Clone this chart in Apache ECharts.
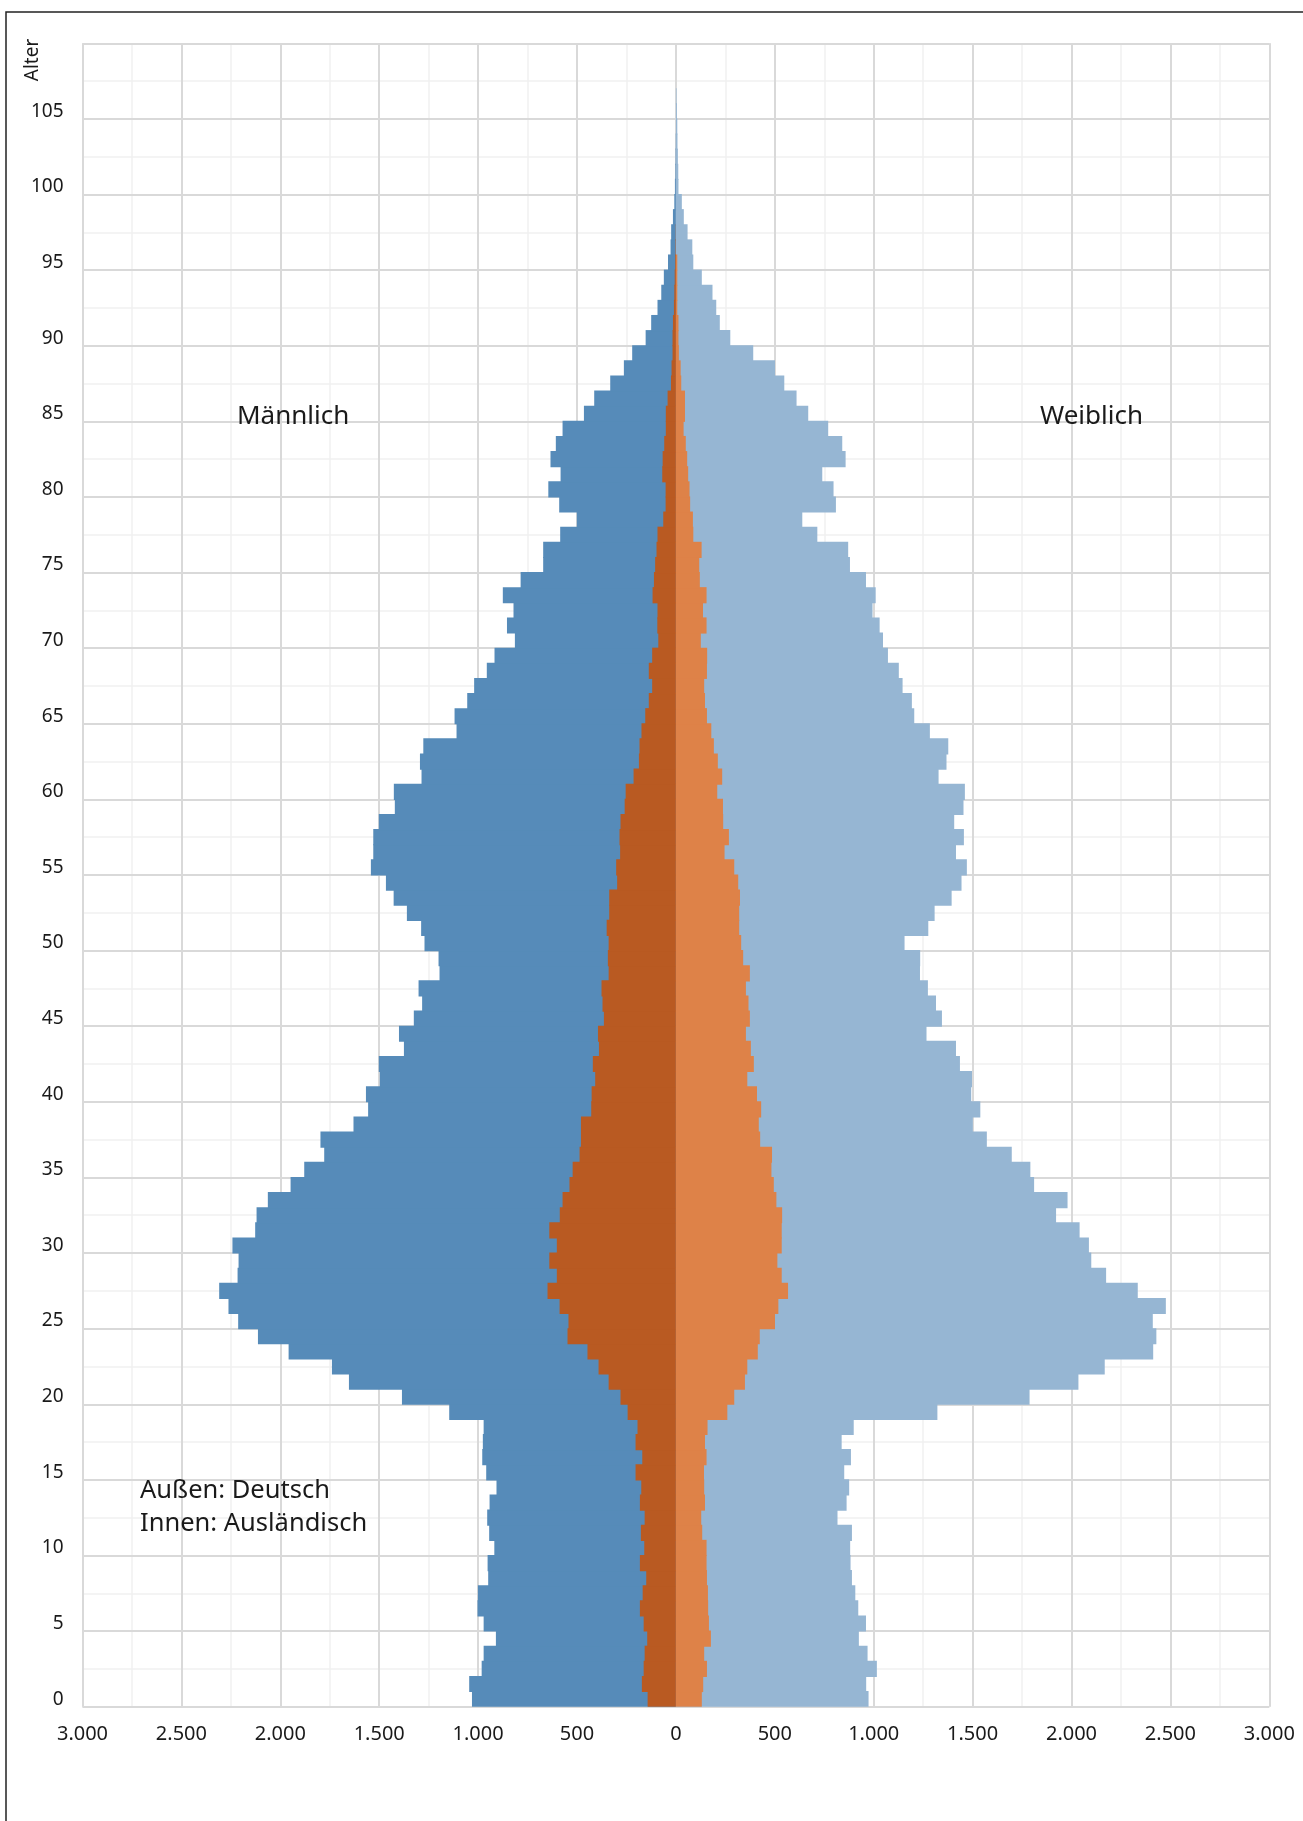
<!DOCTYPE html>
<html>
<head>
<meta charset="utf-8">
<script src="https://cdn.jsdelivr.net/npm/echarts@6/dist/echarts.min.js"></script>
<style>
html,body{margin:0;padding:0;background:#fff;}
#chart{width:1303px;height:1821px;}
</style>
</head>
<body>
<div id="chart"></div>
<script>
// Ages (categories) 0..109
const ages = [];
for (let i = 0; i < 110; i++) ages.push(String(i));

// Männlich, außen (Deutsch) – bar extent, ages 0..
const maleOuter = [1031,1045,982,972,910,972,1003,1001,949,952,
  918,944,954,942,907,959,979,976,972,1146,
  1385,1653,1739,1958,2113,2213,2262,2309,2216,2211,
  2242,2127,2120,2063,1948,1879,1778,1797,1630,1556,
  1567,1497,1502,1375,1400,1325,1283,1301,1195,1200,
  1271,1288,1360,1427,1466,1542,1530,1530,1502,1421,
  1426,1286,1294,1277,1109,1119,1055,1020,956,917,
  814,854,821,875,785,671,671,585,501,590,
  645,583,634,607,573,465,413,332,263,221,
  153,125,93,74,61,40,27,24,15,8,
  5,3,2,1];
// Männlich, innen (Ausländisch)
const maleInner = [143,172,163,158,145,163,182,168,150,182,
  160,177,158,182,175,204,170,204,194,244,
  280,340,391,447,548,543,588,649,602,640,
  602,640,587,573,538,522,487,480,480,428,
  426,408,420,389,394,364,371,376,340,344,
  340,350,337,337,297,302,282,285,280,259,
  254,214,187,184,174,155,137,120,137,120,
  89,94,93,118,111,105,98,93,64,52,
  52,69,67,59,51,51,42,25,22,17,
  17,15,10,8,6,4,2,1];
// Weiblich, außen (Deutsch)
const femaleOuter = [974,962,1016,969,925,961,922,907,890,883,
  881,890,817,863,876,851,885,838,899,1322,
  1788,2035,2168,2413,2429,2411,2477,2335,2175,2100,
  2088,2041,1922,1980,1811,1792,1698,1572,1501,1539,
  1493,1497,1436,1416,1267,1345,1315,1274,1234,1235,
  1156,1276,1308,1394,1444,1471,1416,1456,1407,1454,
  1461,1328,1368,1377,1284,1205,1193,1146,1127,1072,
  1047,1030,994,1010,961,880,871,715,639,809,
  797,740,858,841,770,669,610,548,501,391,
  275,222,204,185,131,88,83,59,40,30,
  13,12,10,8,7,5,3];
// Weiblich, innen (Ausländisch)
const femaleInner = [131,138,157,143,177,167,163,162,157,155,
  155,133,128,147,143,142,155,147,160,260,
  295,349,361,414,424,501,518,567,535,513,
  535,535,537,508,495,483,486,426,419,431,
  410,361,394,379,354,374,367,354,374,340,
  330,320,320,324,315,295,246,268,239,238,
  209,234,212,192,179,157,147,143,157,158,
  126,155,137,155,121,118,130,88,86,72,
  69,62,57,50,39,46,46,27,24,15,
  13,13,7,7,7,7];

// Tick labels
const yTickAges = ['0','5','10','15','20','25','30','35','40','45','50','55','60','65','70','75','80','85','90','95','100','105'];
const xTickLabels = ['3.000','2.500','2.000','1.500','1.000','500','0','500','1.000','1.500','2.000','2.500','3.000'];

const FONT = '"Noto Sans", "DejaVu Sans", sans-serif';
const C_MALE_OUT = '#568bb9';
const C_MALE_IN = '#b95a22';
const C_FEM_OUT = '#96b6d3';
const C_FEM_IN = '#de8248';

function fmt(v) {
  const idx = Math.round((v + 3000) / 500);
  return xTickLabels[idx] !== undefined ? xTickLabels[idx] : '';
}

const chart = echarts.init(document.getElementById('chart'), null, {renderer: 'canvas'});
const gridBox = {left: 82.5, top: 43.3, width: 1186.8, height: 1663.4};

function barSeries(name, data, color, z) {
  return {name: name, type: 'bar', xAxisIndex: 0, yAxisIndex: 0, data: data,
    barGap: '-100%', barWidth: '107%', itemStyle: {color: color}, z: z};
}

chart.setOption({
  animation: false,
  backgroundColor: '#ffffff',
  grid: Object.assign({containLabel: false}, gridBox),
  xAxis: [
    {
      type: 'value', min: -3000, max: 3000, interval: 500, position: 'bottom', z: 1,
      axisLine: {show: false}, axisTick: {show: false},
      axisLabel: {show: true, formatter: fmt, fontFamily: FONT, fontSize: 20, color: '#1a1a1a', margin: 18, hideOverlap: false},
      splitLine: {show: true, lineStyle: {color: '#d9d9d9', width: 2}}
    },
    {
      type: 'value', min: -3000, max: 3000, interval: 250, position: 'top', z: 0,
      axisLine: {show: false}, axisTick: {show: false}, axisLabel: {show: false},
      splitLine: {show: true, lineStyle: {color: '#f0f0f0', width: 1.5}}
    }
  ],
  yAxis: [
    {
      type: 'category', data: ages, position: 'left', boundaryGap: true, z: 3,
      axisLine: {show: false}, axisTick: {show: false},
      splitLine: {show: false},
      axisLabel: {
        interval: function (i) { return yTickAges.indexOf(ages[i]) >= 0; },
        fontFamily: FONT, fontSize: 19, color: '#1a1a1a', margin: 19
      }
    },
    {
      type: 'value', min: 0, max: 110, interval: 5, position: 'right', z: 1,
      axisLine: {show: false}, axisTick: {show: false}, axisLabel: {show: false},
      splitLine: {show: true, lineStyle: {color: '#d9d9d9', width: 2}}
    },
    {
      type: 'value', min: 0, max: 110, interval: 2.5, position: 'right', z: 0,
      axisLine: {show: false}, axisTick: {show: false}, axisLabel: {show: false},
      splitLine: {show: true, lineStyle: {color: '#f0f0f0', width: 1.5}}
    }
  ],
  series: [
    barSeries('Männlich Deutsch', maleOuter.map(v => -v), C_MALE_OUT, 2),
    barSeries('Männlich Ausländisch', maleInner.map(v => -v), C_MALE_IN, 3),
    barSeries('Weiblich Deutsch', femaleOuter.slice(), C_FEM_OUT, 2),
    barSeries('Weiblich Ausländisch', femaleInner.slice(), C_FEM_IN, 3)
  ],
  graphic: [
    {type: 'rect', left: 3.5, top: 9.5, z: 100, silent: true,
     shape: {width: 1400, height: 1900}, style: {fill: 'none', stroke: '#222', lineWidth: 1.5}},
    {type: 'text', x: 33, y: 60, rotation: Math.PI / 2, z: 100,
     style: {text: 'Alter', font: '19px ' + FONT, fill: '#1a1a1a', textAlign: 'center', textVerticalAlign: 'middle'}},
    {type: 'text', x: 237, y: 417, z: 100,
     style: {text: 'Männlich', font: '26px ' + FONT, fill: '#1a1a1a', textAlign: 'left', textVerticalAlign: 'middle'}},
    {type: 'text', x: 1040, y: 417, z: 100,
     style: {text: 'Weiblich', font: '26px ' + FONT, fill: '#1a1a1a', textAlign: 'left', textVerticalAlign: 'middle'}},
    {type: 'text', x: 140, y: 1491, z: 100,
     style: {text: 'Außen: Deutsch', font: '25.5px ' + FONT, fill: '#1a1a1a', textAlign: 'left', textVerticalAlign: 'middle'}},
    {type: 'text', x: 140, y: 1524, z: 100,
     style: {text: 'Innen: Ausländisch', font: '25.5px ' + FONT, fill: '#1a1a1a', textAlign: 'left', textVerticalAlign: 'middle'}}
  ]
});
</script>
</body>
</html>
